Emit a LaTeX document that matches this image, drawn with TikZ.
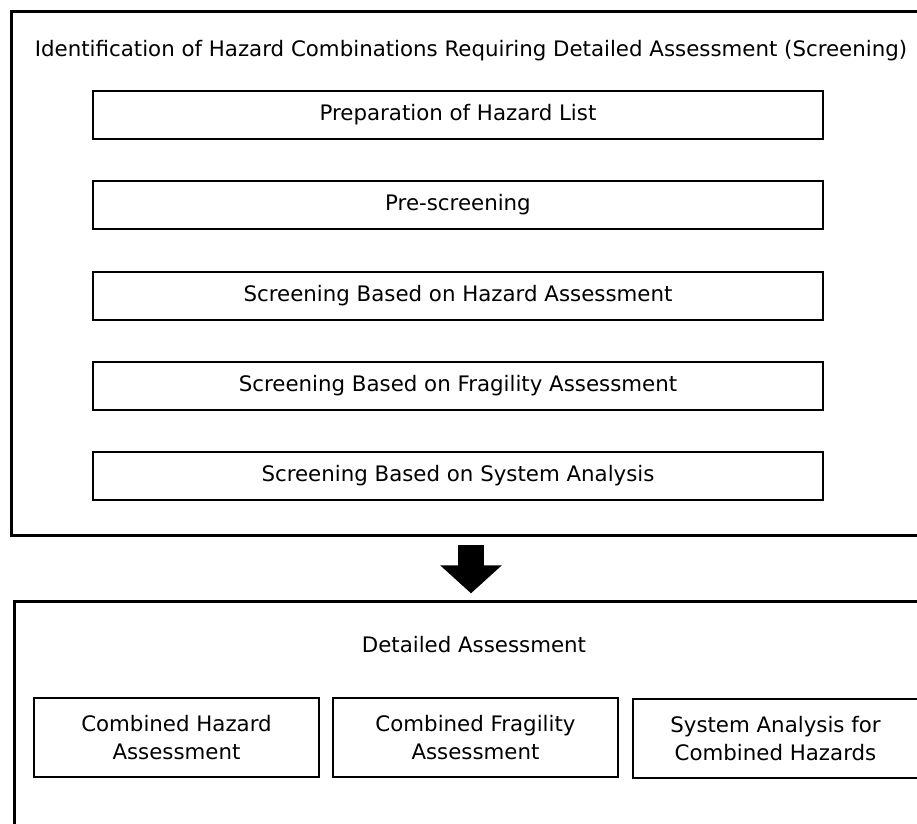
\documentclass[tikz,border=0pt]{standalone}
\usepackage{fontspec}
\setmainfont{DejaVu Sans}
\usetikzlibrary{arrows.meta}

\begin{document}
\begin{tikzpicture}[x=0.75pt,y=-0.75pt,
  outer/.style={draw,line width=2.2pt,anchor=north west,inner sep=0pt},
  stage/.style={draw,line width=1.5pt,minimum width=547.5pt,minimum height=36pt,inner sep=0pt},
  part/.style={draw,line width=1.5pt,minimum width=213.75pt,minimum height=59.25pt,inner sep=0pt,align=center},
  every node/.style={font=\fontsize{16}{20.5}\selectfont}]
\useasboundingbox (0,0) rectangle (917,824);
\clip (0,0) rectangle (917,824);
\node[outer,minimum width=693.75pt,minimum height=393pt] (screen) at (10,10) {};
\node (title) at (471,51) {Identification of Hazard Combinations Requiring Detailed Assessment (Screening)};
\node[stage] (s1) at (458,115) {Preparation of Hazard List};
\node[stage] (s2) at (458,205) {Pre-screening};
\node[stage] (s3) at (458,296) {Screening Based on Hazard Assessment};
\node[stage] (s4) at (458,386) {Screening Based on Fragility Assessment};
\node[stage] (s5) at (458,476) {Screening Based on System Analysis};
\node[outer,minimum width=691.5pt,minimum height=187.5pt] (detail) at (13,600) {};
\node (dtitle) at (474,645) {Detailed Assessment};
\node[part] (d1) at (176.5,737.5) {Combined Hazard\\Assessment};
\node[part] (d2) at (475.5,737.5) {Combined Fragility\\Assessment};
\node[part] (d3) at (775.5,738.5) {System Analysis for\\Combined Hazards};
\draw[line width=19.5pt,-{Triangle[width=45pt,length=21pt]},shorten <=6pt,shorten >=5pt]
  (title |- screen.south) -- (title |- detail.north);
\end{tikzpicture}
\end{document}
